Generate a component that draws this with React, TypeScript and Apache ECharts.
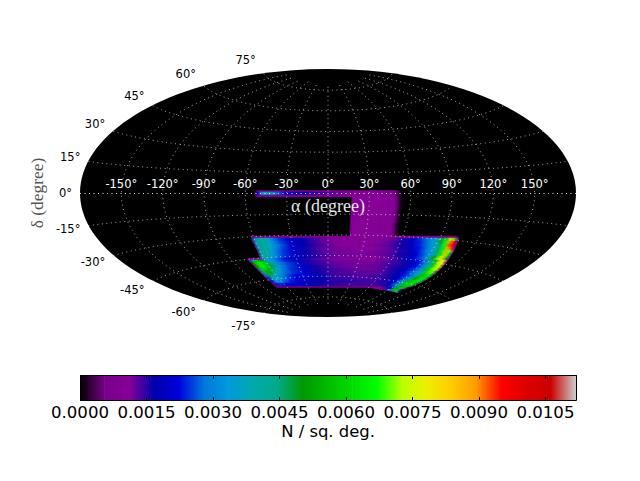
import React, { useEffect, useRef } from "react";
import * as echarts from "echarts";

// Density values are in units of 1e-4 per square degree; bands are read off the picture
// in the plane of the Aitoff map (degrees along the map's x and y axes).
const UNIT = 1e-4;
const COLOR_MAX = 0.01119;
const colorbarTicks = 0.0015;

const cmapColors = ["#000000", "#770088", "#880099", "#0000aa", "#0000dd", "#0077dd", "#0099dd", "#00aaaa", "#00aa88", "#009900", "#00bb00", "#00dd00", "#00ff00", "#bbff00", "#eeee00", "#ffcc00", "#ff9900", "#ff0000", "#dd0000", "#cc0000", "#cccccc"];

const lonGrid = [-150, -120, -90, -60, -30, 0, 30, 60, 90, 120, 150];
const latGrid = [-75, -60, -45, -30, -15, 0, 15, 30, 45, 60, 75];
const lonLabels = ["-150°", "-120°", "-90°", "-60°", "-30°", "0°", "30°", "60°", "90°", "120°", "150°"];
const latLabels = ["-75°", "-60°", "-45°", "-30°", "-15°", "0°", "15°", "30°", "45°", "60°", "75°"];

const bodyFractions = [0, 0.015, 0.035, 0.06, 0.09, 0.13, 0.18, 0.25, 0.33, 0.42, 0.52, 0.6, 0.67, 0.73, 0.78, 0.82, 0.86, 0.89, 0.92, 0.945, 0.965, 0.985, 1];

const upperY = [-31.2, -32.7, -34.8, -37.0, -39.2, -41.4, -43.5, -45.7, -47.2];
const upperLeft = [-56.6, -55.9, -55.2, -53.7, -53.0, -51.5, -50.8, -50.1, -49.4];
const upperRight = [95.1, 95.1, 94.4, 93.3, 92.5, 91.5, 90.4, 88.9, 88.2];
const upperValues = [
  [0, 7, 8, 8, 8, 8, 8, 8, 9, 9, 9, 9, 9, 8, 8, 8, 8, 8, 8, 8, 8, 7, 0],
  [4, 30, 44, 40, 33, 25, 20, 17, 13, 11, 10, 11, 12, 15, 19, 25, 31, 36, 47, 62, 82, 60, 6],
  [4, 34, 44, 40, 34, 26, 20, 17, 13, 11, 11, 11, 13, 16, 19, 24, 30, 36, 48, 68, 90, 96, 6],
  [4, 36, 44, 40, 34, 27, 21, 17, 14, 11, 11, 12, 13, 16, 19, 24, 29, 35, 46, 68, 92, 98, 8],
  [4, 36, 42, 39, 33, 26, 21, 16, 13, 12, 11, 11, 13, 16, 19, 23, 28, 34, 45, 66, 88, 94, 8],
  [4, 38, 41, 37, 31, 25, 20, 17, 13, 12, 11, 12, 13, 15, 18, 23, 28, 34, 47, 68, 86, 70, 8],
  [4, 38, 42, 37, 31, 25, 20, 16, 14, 12, 12, 12, 13, 16, 18, 22, 27, 33, 45, 65, 84, 66, 8],
  [4, 38, 42, 37, 31, 25, 20, 17, 14, 12, 12, 11, 13, 15, 18, 22, 27, 36, 50, 70, 84, 60, 8],
];

const lowerY = [-47.2, -48.6, -50.1, -52.3, -54.4, -56.6, -58.8, -61.0, -63.1, -65.3, -67.8, -68.6];
const lowerLeft = [-58.8, -58.1, -56.6, -54.4, -52.3, -50.1, -47.9, -45.7, -43.2, -40.6, -38.4, -37.4];
const lowerRight = [88.2, 87.1, 86.0, 84.2, 82.4, 79.8, 77.3, 74.4, 71.1, 66.8, 61.0, 59.5];
const lowerValues = [
  [3, 8, 8, 9, 35, 30, 23, 18, 14, 12, 11, 11, 12, 14, 17, 20, 26, 36, 50, 72, 82, 50, 8],
  [4, 30, 60, 50, 38, 31, 24, 18, 15, 12, 12, 11, 12, 14, 16, 19, 22, 27, 38, 56, 74, 80, 8],
  [5, 50, 66, 62, 46, 33, 26, 20, 15, 13, 12, 12, 13, 14, 16, 19, 23, 28, 40, 58, 74, 76, 8],
  [6, 52, 67, 62, 48, 34, 26, 20, 16, 13, 12, 12, 13, 15, 16, 19, 23, 28, 42, 60, 72, 74, 8],
  [6, 46, 62, 56, 44, 33, 25, 21, 16, 14, 13, 12, 13, 15, 17, 20, 25, 31, 46, 62, 72, 72, 8],
  [6, 38, 55, 48, 38, 30, 25, 20, 16, 14, 13, 13, 13, 15, 18, 21, 27, 34, 45, 62, 70, 68, 8],
  [6, 30, 48, 42, 34, 27, 23, 20, 17, 14, 14, 13, 14, 15, 18, 21, 26, 32, 42, 58, 64, 66, 8],
  [6, 24, 40, 37, 32, 26, 22, 19, 17, 15, 14, 14, 14, 15, 17, 20, 28, 36, 50, 60, 64, 62, 8],
  [7, 22, 34, 32, 28, 24, 21, 19, 17, 15, 15, 14, 14, 15, 16, 22, 36, 46, 58, 62, 64, 62, 8],
  [7, 14, 24, 24, 22, 21, 20, 18, 16, 15, 14, 14, 14, 14, 16, 20, 30, 44, 58, 62, 64, 58, 8],
  [4, 7, 8, 8, 8, 8, 8, 8, 8, 8, 8, 8, 9, 10, 12, 15, 24, 34, 50, 58, 60, 50, 8],
];

const wedgeY = [-68.6, -70.0, -71.9];
const wedgeLeft = [30.5, 39.9, 50.1];
const wedgeRight = [59.5, 55.2, 50.8];
const wedgeValues = [
  [4, 7, 8, 9, 9, 10, 11, 12, 14, 16, 22, 36, 50, 58, 60, 60, 58, 55, 45, 30, 15, 8, 0],
  [3, 7, 9, 12, 16, 22, 30, 40, 50, 58, 60, 60, 58, 56, 50, 40, 25, 12, 8, 6, 4, 3, 0],
];

const stripFractions = [0, 0.02, 0.05, 0.09, 0.14, 0.21, 0.32, 0.46, 0.67, 0.84, 0.95, 1];
const stripY = [1.8, 0.7, -1.5, -2.9];
const stripLeft = [-53.3, -53.3, -53.3, -53.3];
const stripRight = [53.7, 53.7, 53.7, 53.7];
const stripValues = [
  [0, 6, 7, 7, 8, 8, 9, 9, 9, 9, 7, 0],
  [4, 22, 34, 38, 30, 22, 17, 14, 11, 10, 8, 0],
  [0, 7, 8, 8, 8, 8, 8, 8, 9, 10, 7, 0],
];

const blockFractions = [0, 0.03, 0.3, 0.6, 0.86, 0.93, 1];
const blockY = [-2.9, -12.3, -21.8, -31.2];
const blockLeft = [17.4, 16.7, 16.3, 16.0];
const blockRight = [54.4, 53.7, 52.3, 50.8];
const blockValues = [
  [7, 10, 11, 11, 10, 3, 0],
  [7, 10, 11, 11, 10, 3, 0],
  [7, 11, 11, 10, 10, 3, 0],
];

function hexRgb(h: string) {
  return [parseInt(h.slice(1, 3), 16), parseInt(h.slice(3, 5), 16), parseInt(h.slice(5, 7), 16)];
}
function colorOf(v: number) {
  const f = Math.max(0, Math.min(0.9999, v / COLOR_MAX)) * (cmapColors.length - 1);
  const i = Math.floor(f);
  const a = hexRgb(cmapColors[i]);
  const b = hexRgb(cmapColors[i + 1]);
  const t = f - i;
  return `rgb(${Math.round(a[0] + (b[0] - a[0]) * t)},${Math.round(a[1] + (b[1] - a[1]) * t)},${Math.round(a[2] + (b[2] - a[2]) * t)})`;
}
function aitoff(lon: number, lat: number) {
  const l = (lon * Math.PI) / 180;
  const p = (lat * Math.PI) / 180;
  const a = Math.acos(Math.cos(p) * Math.cos(l / 2));
  const s = a < 1e-9 ? 1 : Math.sin(a) / a;
  return [
    (((2 * Math.cos(p) * Math.sin(l / 2)) / s) * 180) / Math.PI,
    ((Math.sin(p) / s) * 180) / Math.PI,
  ];
}
function bandCells(ys: number[], ls: number[], rs: number[], fr: number[], vals: number[][]) {
  const out: number[][] = [];
  vals.forEach((row, i) => {
    for (let j = 0; j < fr.length - 1; j++) {
      const w0 = rs[i] - ls[i];
      const w1 = rs[i + 1] - ls[i + 1];
      out.push([
        ls[i] + w0 * fr[j], ls[i] + w0 * fr[j + 1],
        ls[i + 1] + w1 * fr[j], ls[i + 1] + w1 * fr[j + 1],
        ys[i], ys[i + 1], row[j] * UNIT, row[j + 1] * UNIT,
      ]);
    }
  });
  return out;
}

const FONT = '"DejaVu Sans"';

export default function App() {
  const ref = useRef<HTMLDivElement>(null);
  useEffect(() => {
    document.body.style.margin = "0";
    const chart = echarts.init(ref.current!, undefined, { renderer: "svg" });
    const cells = [
      ...bandCells(blockY, blockLeft, blockRight, blockFractions, blockValues),
      ...bandCells(stripY, stripLeft, stripRight, stripFractions, stripValues),
      ...bandCells(upperY, upperLeft, upperRight, bodyFractions, upperValues),
      ...bandCells(lowerY, lowerLeft, lowerRight, bodyFractions, lowerValues),
      ...bandCells(wedgeY, wedgeLeft, wedgeRight, bodyFractions, wedgeValues),
    ];
    const gridLines = [
      ...latGrid.map((d) => [0, d]),
      ...lonGrid.map((d) => [1, d]),
    ];
    const barSegments = cmapColors.slice(0, -1).map((_, i) => [i]);
    const mapAxes = { coordinateSystem: "cartesian2d", xAxisIndex: 0, yAxisIndex: 0, silent: true };
    const option: any = {
      animation: false,
      backgroundColor: "#ffffff",
      grid: [
        { left: 80, top: 69, width: 496, height: 248 },
        { left: 80, top: 375, width: 496, height: 26 },
      ],
      xAxis: [
        { gridIndex: 0, type: "value", min: -180, max: 180, show: false },
        {
          gridIndex: 1, type: "value", min: 0, max: COLOR_MAX, interval: colorbarTicks, position: "bottom", z: 5,
          splitLine: { show: false },
          axisLine: { show: false },
          axisTick: { show: true, inside: true, length: 4, lineStyle: { color: "#000", width: 1 } },
          axisLabel: { show: true, showMaxLabel: false, margin: 3, color: "#000", fontFamily: FONT, fontSize: 16.6, formatter: (v: number) => v.toFixed(4) },
          name: "N / sq. deg.", nameLocation: "middle", nameGap: 22,
          nameTextStyle: { color: "#000", fontFamily: FONT, fontSize: 16.4 },
        },
        {
          gridIndex: 1, type: "value", min: 0, max: COLOR_MAX, interval: colorbarTicks, position: "top", z: 5,
          splitLine: { show: false },
          axisLine: { show: false },
          axisTick: { show: true, inside: true, length: 4, lineStyle: { color: "#000", width: 1 } },
          axisLabel: { show: false },
        },
      ],
      yAxis: [
        { gridIndex: 0, type: "value", min: -90, max: 90, show: false },
        { gridIndex: 1, type: "value", min: 0, max: 1, show: false },
      ],
      graphic: [
        { type: "text", x: 328, y: 206, z: 20, style: { text: "α (degree)", fill: "#e4e4e4", font: '18px "Liberation Serif"', align: "center", verticalAlign: "middle" } },
        { type: "text", x: 37, y: 193, rotation: Math.PI / 2, z: 20, style: { text: "δ (degree)", fill: "#555555", font: '17.4px "Liberation Serif"', align: "center", verticalAlign: "middle" } },
      ],
      series: [
        {
          type: "custom", ...mapAxes, z: 1, data: [[0, 0]],
          renderItem: (_: any, api: any) => {
            const c = api.coord([0, 0]);
            const e = api.coord([180, 90]);
            return { type: "ellipse", shape: { cx: c[0], cy: c[1], rx: e[0] - c[0], ry: c[1] - e[1] }, style: { fill: "#000000" } };
          },
        },
        {
          type: "custom", ...mapAxes, z: 2, progressive: 0, data: cells,
          renderItem: (_: any, api: any) => {
            const v = (i: number) => api.value(i) as number;
            const pts = [api.coord([v(0), v(4)]), api.coord([v(1), v(4)]), api.coord([v(3), v(5)]), api.coord([v(2), v(5)])];
            const grad = {
              type: "linear", x: 0, y: 0, x2: 1, y2: 0,
              colorStops: [{ offset: 0, color: colorOf(v(6)) }, { offset: 1, color: colorOf(v(7)) }],
            };
            return { type: "polygon", shape: { points: pts }, style: { fill: grad, stroke: grad, lineWidth: 0.5 } };
          },
        },
        {
          type: "custom", ...mapAxes, z: 3, data: gridLines,
          renderItem: (_: any, api: any) => {
            const kind = api.value(0) as number;
            const d = api.value(1) as number;
            const pts: number[][] = [];
            const put = (p: number[]) => { const c = api.coord(p); pts.push([c[0], c[1] + 0.5]); };
            if (kind === 0) {
              for (let l = -180; l <= 180; l += 4) put(aitoff(l, d));
            } else {
              for (let b = -80; b <= 80; b += 4) put(aitoff(d, b));
            }
            return {
              type: "polyline", shape: { points: pts },
              style: { stroke: "#ffffff", fill: null, lineWidth: 0.9, lineDash: [1, 3.5], opacity: kind === 0 && d === 0 ? 1 : 0.72 },
            };
          },
        },
        {
          type: "custom", ...mapAxes, z: 4, data: lonGrid.map((d, i) => [d, i]),
          renderItem: (_: any, api: any) => {
            const c = api.coord([api.value(0), 0]);
            return { type: "text", style: { text: lonLabels[api.value(1) as number], x: c[0], y: c[1] - 9, fill: "#ffffff", font: `11.5px ${FONT}`, align: "center", verticalAlign: "middle" } };
          },
        },
        {
          type: "custom", ...mapAxes, z: 4, data: latGrid.map((d, i) => [d, i]),
          renderItem: (_: any, api: any) => {
            const p = aitoff(-180, api.value(0) as number);
            const c = api.coord([p[0], p[1] * 1.107]);
            return { type: "text", style: { text: latLabels[api.value(1) as number], x: c[0] - 8, y: c[1], fill: "#000000", font: `11.5px ${FONT}`, align: "right", verticalAlign: "middle" } };
          },
        },
        {
          type: "custom", coordinateSystem: "cartesian2d", xAxisIndex: 1, yAxisIndex: 1, silent: true, z: 2, data: barSegments,
          renderItem: (_: any, api: any) => {
            const i = api.value(0) as number;
            const n = cmapColors.length - 1;
            const a = api.coord([(i / n) * COLOR_MAX, 1]);
            const b = api.coord([((i + 1) / n) * COLOR_MAX, 0]);
            return {
              type: "rect", shape: { x: a[0] - (i ? 0.6 : 0), y: a[1], width: b[0] - a[0] + (i ? 0.6 : 0), height: b[1] - a[1] },
              style: { fill: { type: "linear", x: 0, y: 0, x2: 1, y2: 0, colorStops: [{ offset: 0, color: cmapColors[i] }, { offset: 1, color: cmapColors[i + 1] }] } },
            };
          },
        },
        {
          type: "custom", coordinateSystem: "cartesian2d", xAxisIndex: 1, yAxisIndex: 1, silent: true, z: 3, data: [[0, 0]],
          renderItem: (_: any, api: any) => {
            const a = api.coord([0, 1]);
            const b = api.coord([COLOR_MAX, 0]);
            return {
              type: "rect", shape: { x: a[0] + 0.5, y: a[1] + 0.5, width: b[0] - a[0], height: b[1] - a[1] - 1 },
              style: { fill: null, stroke: "#000000", lineWidth: 1 },
            };
          },
        },
      ],
    };
    chart.setOption(option);
    return () => chart.dispose();
  }, []);
  return <div ref={ref} style={{ position: "fixed", left: 0, top: 0, width: 640, height: 481 }} />;
}
